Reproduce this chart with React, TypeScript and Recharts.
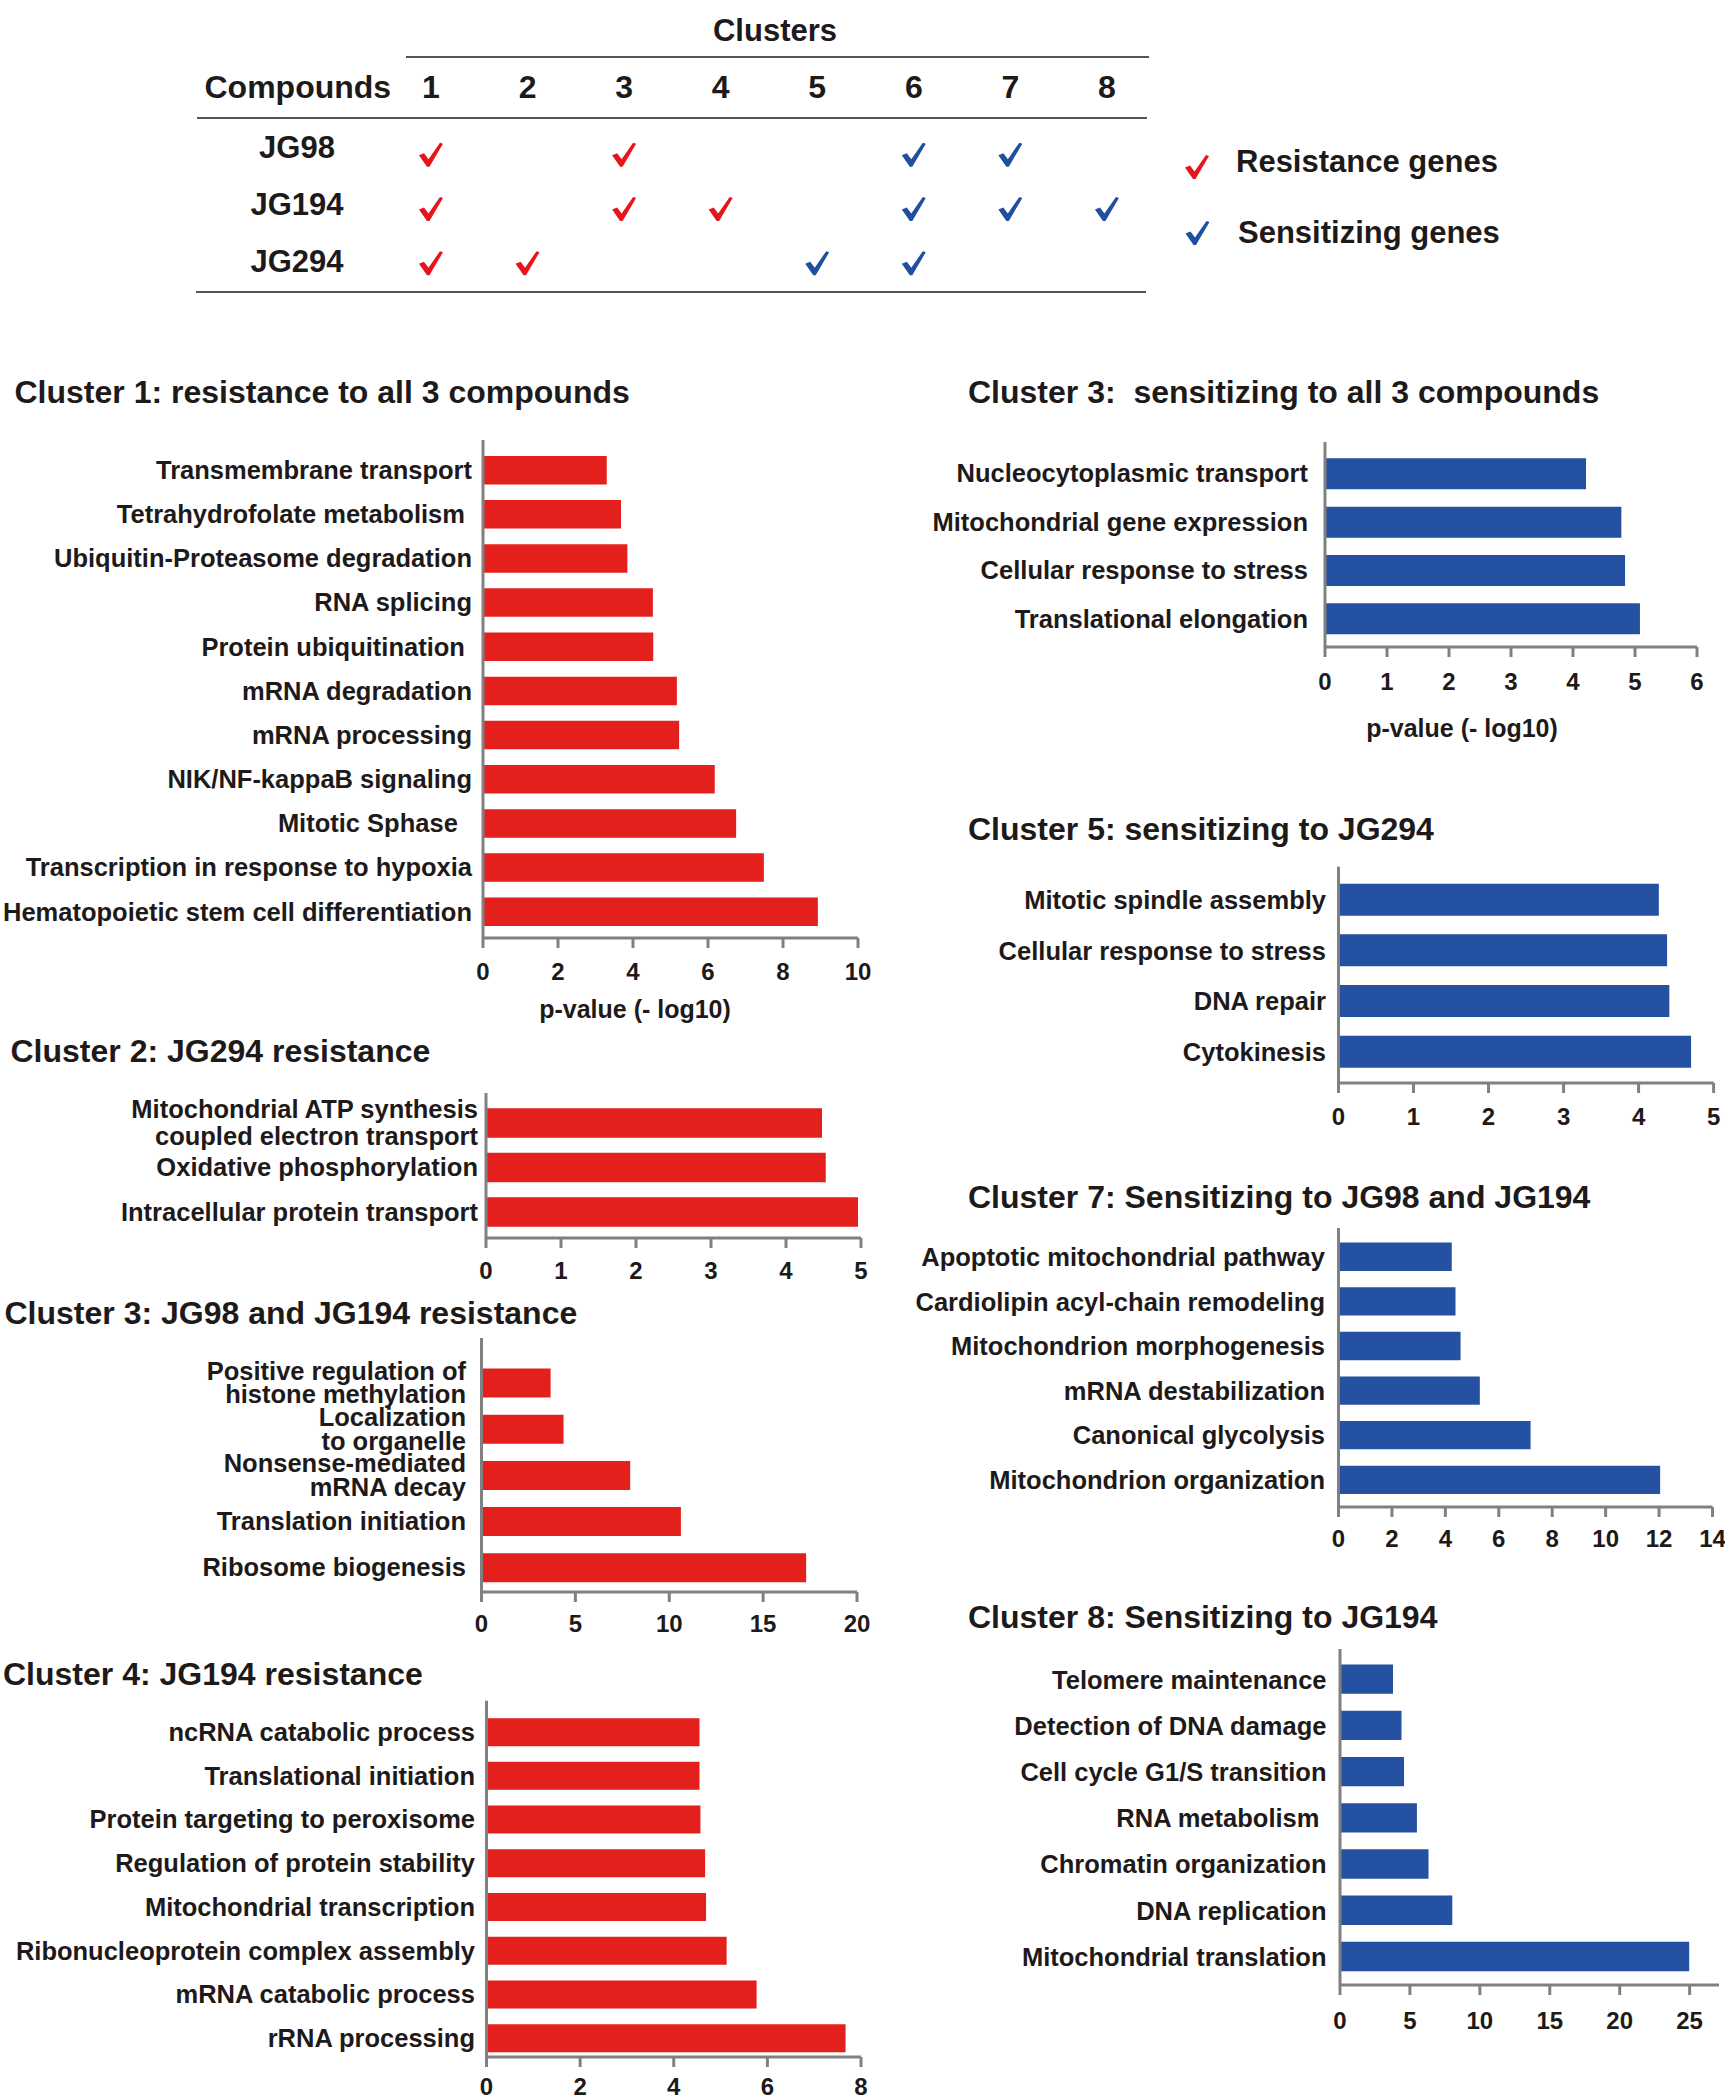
import React from 'react';
import { BarChart, Bar, XAxis, YAxis, ScatterChart, Scatter } from 'recharts';

const FONT = '"Liberation Sans", Arial, Helvetica, sans-serif';
const TEXT = '#1e1a1a';
const RED = '#e3201c';
const BLUE = '#2451a2';
const CHECK_RED = '#e8141c';
const CHECK_BLUE = '#1f4f9e';
const AXIS = '#808080';

// ---------- table data ----------
const compounds = ['JG98', 'JG194', 'JG294'];
const clusterIds = [1, 2, 3, 4, 5, 6, 7, 8];
const resistanceHits: [string, number][] = [
  ['JG98', 1], ['JG98', 3],
  ['JG194', 1], ['JG194', 3], ['JG194', 4],
  ['JG294', 1], ['JG294', 2],
];
const sensitizingHits: [string, number][] = [
  ['JG98', 6], ['JG98', 7],
  ['JG194', 6], ['JG194', 7], ['JG194', 8],
  ['JG294', 5], ['JG294', 6],
];

// ---------- bar chart data ----------
const cluster1Terms = [
  'Transmembrane transport',
  'Tetrahydrofolate metabolism\u00A0',
  'Ubiquitin-Proteasome degradation',
  'RNA splicing',
  'Protein ubiquitination\u00A0',
  'mRNA degradation',
  'mRNA processing',
  'NIK/NF-kappaB signaling',
  'Mitotic Sphase\u00A0\u00A0',
  'Transcription in response to hypoxia',
  'Hematopoietic stem cell differentiation',
];
const cluster1Values = [3.3, 3.68, 3.85, 4.53, 4.54, 5.17, 5.23, 6.18, 6.75, 7.49, 8.93];

const cluster2Terms = [
  'Mitochondrial ATP synthesis\ncoupled electron transport',
  'Oxidative phosphorylation',
  'Intracellular protein transport',
];
const cluster2Values = [4.48, 4.53, 4.96];

const cluster3ResTerms = [
  'Positive regulation of\nhistone methylation',
  'Localization\nto organelle',
  'Nonsense-mediated\nmRNA decay',
  'Translation initiation',
  'Ribosome biogenesis',
];
const cluster3ResValues = [3.68, 4.37, 7.92, 10.62, 17.29];

const cluster4Terms = [
  'ncRNA catabolic process',
  'Translational initiation',
  'Protein targeting to peroxisome',
  'Regulation of protein stability',
  'Mitochondrial transcription',
  'Ribonucleoprotein complex assembly',
  'mRNA catabolic process',
  'rRNA processing',
];
const cluster4Values = [4.55, 4.55, 4.57, 4.67, 4.69, 5.13, 5.77, 7.67];

const cluster3SensTerms = [
  'Nucleocytoplasmic transport',
  'Mitochondrial gene expression',
  'Cellular response to stress',
  'Translational elongation',
];
const cluster3SensValues = [4.21, 4.78, 4.84, 5.08];

const cluster5Terms = ['Mitotic spindle assembly', 'Cellular response to stress', 'DNA repair', 'Cytokinesis'];
const cluster5Values = [4.27, 4.38, 4.41, 4.7];

const cluster7Terms = [
  'Apoptotic mitochondrial pathway',
  'Cardiolipin acyl-chain remodeling',
  'Mitochondrion morphogenesis',
  'mRNA destabilization',
  'Canonical glycolysis',
  'Mitochondrion organization',
];
const cluster7Values = [4.24, 4.38, 4.57, 5.29, 7.19, 12.04];

const cluster8Terms = [
  'Telomere maintenance',
  'Detection of DNA damage',
  'Cell cycle G1/S transition',
  'RNA metabolism\u00A0',
  'Chromatin organization',
  'DNA replication',
  'Mitochondrial translation',
];
const cluster8Values = [3.79, 4.4, 4.58, 5.5, 6.33, 8.03, 24.97];

const ticks0to10 = [0, 2, 4, 6, 8, 10];
const ticks0to5 = [0, 1, 2, 3, 4, 5];
const ticks0to20 = [0, 5, 10, 15, 20];
const ticks0to8 = [0, 2, 4, 6, 8];
const ticks0to6 = [0, 1, 2, 3, 4, 5, 6];
const ticks0to14 = [0, 2, 4, 6, 8, 10, 12, 14];
const ticks0to25 = [0, 5, 10, 15, 20, 25];

const titles = [
  { text: 'Cluster 1: resistance to all 3 compounds', x: 14.5, y: 403 },
  { text: 'Cluster 2: JG294 resistance', x: 10.5, y: 1062 },
  { text: 'Cluster 3: JG98 and JG194 resistance', x: 4.5, y: 1324 },
  { text: 'Cluster 4: JG194 resistance', x: 3, y: 1685 },
  { text: 'Cluster 3:\u00A0 sensitizing to all 3 compounds', x: 968, y: 403 },
  { text: 'Cluster 5: sensitizing to JG294', x: 968, y: 840 },
  { text: 'Cluster 7: Sensitizing to JG98 and JG194', x: 968, y: 1208 },
  { text: 'Cluster 8: Sensitizing to JG194', x: 968, y: 1628 },
];

// ---------- helpers ----------
function Check({ cx, cy, color, size = 24 }: { cx: number; cy: number; color: string; size?: number }) {
  const s = size / 24;
  const pts = [
    [0, 12.5], [5, 10.5], [9.5, 16.5], [21, 0], [24, 1], [10.5, 24], [8, 24],
  ]
    .map(([a, b]) => `${cx - 12 * s + a * s},${cy - 12 * s + b * s}`)
    .join(' ');
  return <polygon points={pts} fill={color} />;
}

type PanelProps = {
  terms: string[];
  values: number[];
  color: string;
  left: number;
  top: number;
  width: number;
  x0: number;
  x1: number;
  yTop: number;
  yBottom: number;
  padTop: number;
  padBottom: number;
  domain: [number, number];
  ticks: number[];
  barSize: number;
  labelGap: number;
  lineHeight?: number;
  tickOffset: number;
};

function BarPanel(p: PanelProps) {
  const data = p.terms.map((t, i) => ({ term: t, value: p.values[i] }));
  const axisH = Math.min(50, 2100 - p.yBottom);
  const height = p.yBottom - p.top + axisH;
  const yW = p.x0 - p.left;
  const margin = { top: p.yTop - p.top, right: p.left + p.width - p.x1, bottom: 0, left: 0 };
  const lh = p.lineHeight ?? 27;
  const localAxisY = p.yBottom - p.top;

  const renderYTick = (props: any) => {
    const { x, y, payload } = props;
    const lines = String(payload.value).split('\n');
    const first = y - ((lines.length - 1) * lh) / 2 + 9;
    const tx = x - p.labelGap;
    return (
      <text textAnchor="end" fontFamily={FONT} fontWeight={700} fontSize={25.5} fill={TEXT}>
        {lines.map((l, i) => (
          <tspan key={i} x={tx} y={first + i * lh}>
            {l}
          </tspan>
        ))}
      </text>
    );
  };
  const renderXTick = (props: any) => {
    const { x, payload } = props;
    return (
      <text x={x} y={localAxisY + p.tickOffset + 17} textAnchor="middle" fontFamily={FONT} fontWeight={700} fontSize={24} fill={TEXT}>
        {payload.value}
      </text>
    );
  };

  return (
    <div style={{ position: 'absolute', left: p.left, top: p.top }}>
      <BarChart width={p.width} height={height} data={data} layout="vertical" margin={margin}>
        <XAxis
          type="number"
          domain={p.domain}
          ticks={p.ticks}
          interval={0}
          height={axisH}
          allowDataOverflow
          axisLine={{ stroke: AXIS, strokeWidth: 3 }}
          tickLine={{ stroke: AXIS, strokeWidth: 3 }}
          tickSize={10}
          tickMargin={0}
          tick={renderXTick}
        />
        <YAxis
          type="category"
          dataKey="term"
          width={yW}
          interval={0}
          padding={{ top: p.padTop, bottom: p.padBottom }}
          axisLine={{ stroke: AXIS, strokeWidth: 3 }}
          tickLine={false}
          tickSize={0}
          tickMargin={0}
          tick={renderYTick}
        />
        <Bar dataKey="value" fill={p.color} barSize={p.barSize} isAnimationActive={false} />
      </BarChart>
    </div>
  );
}

function ClusterTable() {
  const red = resistanceHits.map(([c, k]) => ({ x: k, y: compounds.indexOf(c) + 1 }));
  const blue = sensitizingHits.map(([c, k]) => ({ x: k, y: compounds.indexOf(c) + 1 }));
  const renderXTick = (props: any) => (
    <text x={props.x} y={98} textAnchor="middle" fontFamily={FONT} fontWeight={700} fontSize={32} fill={TEXT}>
      {props.payload.value}
    </text>
  );
  const renderYTick = (props: any) => (
    <text x={297} y={props.y + 1 + 2.7 * props.payload.value} textAnchor="middle" fontFamily={FONT} fontWeight={700} fontSize={31} fill={TEXT}>
      {compounds[props.payload.value - 1]}
    </text>
  );
  return (
    <div style={{ position: 'absolute', left: 0, top: 0 }}>
      <ScatterChart width={1725} height={300} margin={{ top: 97.5, right: 569.8, bottom: 9.7, left: 282.7 }}>
        <XAxis
          type="number"
          dataKey="x"
          orientation="top"
          domain={[0.5, 8.5]}
          ticks={clusterIds}
          interval={0}
          height={30}
          axisLine={false}
          tickLine={false}
          tick={renderXTick}
        />
        <YAxis
          type="number"
          dataKey="y"
          domain={[0.5, 3.5]}
          ticks={[1, 2, 3]}
          reversed
          interval={0}
          width={100}
          axisLine={false}
          tickLine={false}
          tick={renderYTick}
        />
        <Scatter
          data={red}
          isAnimationActive={false}
          shape={(props: any) => <Check cx={props.cx} cy={props.cy} color={CHECK_RED} />}
        />
        <Scatter
          data={blue}
          isAnimationActive={false}
          shape={(props: any) => <Check cx={props.cx} cy={props.cy} color={CHECK_BLUE} />}
        />
      </ScatterChart>
    </div>
  );
}

function Overlay() {
  const t = { fontFamily: FONT, fontWeight: 700, fill: TEXT } as const;
  return (
    <svg
      width={1725}
      height={2100}
      style={{ position: 'absolute', left: 0, top: 0, pointerEvents: 'none' }}
    >
      <text x={775} y={41} textAnchor="middle" fontSize={31} {...t}>Clusters</text>
      <text x={204.5} y={98} fontSize={32} {...t}>Compounds</text>
      <line x1={406} y1={57} x2={1149} y2={57} stroke="#555" strokeWidth={2} />
      <line x1={197} y1={118} x2={1147} y2={118} stroke="#555" strokeWidth={2} />
      <line x1={196} y1={292} x2={1146} y2={292} stroke="#555" strokeWidth={2} />

      <Check cx={1197} cy={167} color={CHECK_RED} />
      <text x={1236} y={172} fontSize={31} {...t}>Resistance genes</text>
      <Check cx={1197.5} cy={233} color={CHECK_BLUE} />
      <text x={1238} y={243} fontSize={31} {...t}>Sensitizing genes</text>

      {titles.map((ti, i) => (
        <text key={i} x={ti.x} y={ti.y} fontSize={32} {...t}>{ti.text}</text>
      ))}

      <text x={635} y={1018} textAnchor="middle" fontSize={25} {...t}>p-value (- log10)</text>
      <text x={1462} y={737} textAnchor="middle" fontSize={25} {...t}>p-value (- log10)</text>
    </svg>
  );
}

export default function App() {
  return (
    <div style={{ position: 'absolute', left: 0, top: 0, width: 1725, height: 2100, background: '#fff', overflow: 'hidden' }}>
      <ClusterTable />
      <BarPanel terms={cluster1Terms} values={cluster1Values} color={RED}
        left={0} top={420} width={880} x0={483} x1={858} yTop={440} yBottom={938}
        padTop={7.9} padBottom={4.4} domain={[0, 10]} ticks={ticks0to10} barSize={28.5} labelGap={11} tickOffset={25} />
      <BarPanel terms={cluster2Terms} values={cluster2Values} color={RED}
        left={0} top={1080} width={880} x0={486} x1={861} yTop={1093} yBottom={1238}
        padTop={7.25} padBottom={4.25} domain={[0, 5]} ticks={ticks0to5} barSize={29.5} labelGap={8} lineHeight={27} tickOffset={24} />
      <BarPanel terms={cluster3ResTerms} values={cluster3ResValues} color={RED}
        left={0} top={1330} width={880} x0={481.5} x1={857} yTop={1338} yBottom={1592}
        padTop={21.4} padBottom={1.4} domain={[0, 20]} ticks={ticks0to20} barSize={29} labelGap={15.5} lineHeight={23.5} tickOffset={23} />
      <BarPanel terms={cluster4Terms} values={cluster4Values} color={RED}
        left={0} top={1690} width={880} x0={486.5} x1={861} yTop={1700.7} yBottom={2057}
        padTop={9.45} padBottom={-2.85} domain={[0, 8]} ticks={ticks0to8} barSize={28} labelGap={11.5} tickOffset={21} />
      <BarPanel terms={cluster3SensTerms} values={cluster3SensValues} color={BLUE}
        left={900} top={420} width={825} x0={1325} x1={1697} yTop={442} yBottom={647}
        padTop={7.3} padBottom={4.3} domain={[0, 6]} ticks={ticks0to6} barSize={31} labelGap={17} tickOffset={26} />
      <BarPanel terms={cluster5Terms} values={cluster5Values} color={BLUE}
        left={900} top={850} width={825} x0={1338.5} x1={1713.6} yTop={866.7} yBottom={1083}
        padTop={8} padBottom={5.7} domain={[0, 5]} ticks={ticks0to5} barSize={32} labelGap={12.5} tickOffset={25} />
      <BarPanel terms={cluster7Terms} values={cluster7Values} color={BLUE}
        left={900} top={1215} width={825} x0={1338.5} x1={1712.5} yTop={1228} yBottom={1507}
        padTop={6.6} padBottom={4.7} domain={[0, 14]} ticks={ticks0to14} barSize={28.3} labelGap={13.5} tickOffset={23} />
      <BarPanel terms={cluster8Terms} values={cluster8Values} color={BLUE}
        left={900} top={1635} width={825} x0={1340} x1={1719} yTop={1649} yBottom={1985}
        padTop={7.4} padBottom={4.9} domain={[0, 27.1]} ticks={ticks0to25} barSize={29.3} labelGap={13.5} tickOffset={27} />
      <Overlay />
    </div>
  );
}
